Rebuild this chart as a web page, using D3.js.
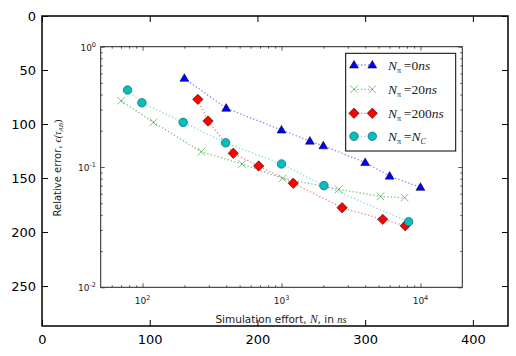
<!DOCTYPE html>
<html><head><meta charset="utf-8">
<script src="https://cdn.jsdelivr.net/npm/d3@7"></script>
<style>body{margin:0;background:#fff}svg{display:block}</style>
</head><body>
<svg id="c" width="516" height="356"></svg>
<script>
// ---- data ----
const outerXTicks = [0, 100, 200, 300, 400];
const outerYTicks = [0, 50, 100, 150, 200, 250];
const innerXTicks = [2, 3, 4];      // exponents 10^k
const innerYTicks = [0, -1, -2];
const n0X = [200, 400, 1000, 1600, 2000, 4000, 6000, 10000];
const n0Y = [0.546, 0.308, 0.203, 0.164, 0.150, 0.109, 0.084, 0.0678];
const n20X = [70, 120, 265, 520, 1020, 2580, 5150, 7700];
const n20Y = [0.356, 0.235, 0.134, 0.106, 0.0805, 0.0653, 0.057, 0.0556];
const n200X = [250, 296, 450, 685, 1215, 2730, 5350, 7770];
const n200Y = [0.365, 0.241, 0.130, 0.102, 0.0732, 0.0459, 0.0367, 0.0325];
const ncX = [78, 99, 196, 396, 1000, 2020, 8220];
const ncY = [0.436, 0.342, 0.235, 0.159, 0.106, 0.070, 0.0351];
const seriesNames = ["0ns", "20ns", "200ns", "NC"];

const svg = d3.select("#c");

// ---- outer axes (image pixel coords) ----
const ox = d3.scaleLinear().domain([0, 432.6]).range([42, 508]);
const oy = d3.scaleLinear().domain([0, 287]).range([16, 326]);

svg.append("rect").attr("x", 42).attr("y", 16).attr("width", 466).attr("height", 310).attr("fill", "#fff");

// ---- inner chart ----
const g = svg.append("g").attr("class", "inner");
const x = d3.scaleLog().domain([50, 20000]).range([100.7, 462.3]);
const y = d3.scaleLog().domain([0.01, 1]).range([287.3, 46.7]);

const minorX = [], minorY = [];
for (let e = 1; e <= 4; e++) for (let m = 2; m <= 9; m++) { const v = m * Math.pow(10, e); if (v > 50 && v < 20000) minorX.push(v); }
for (let e = -2; e <= -1; e++) for (let m = 2; m <= 9; m++) minorY.push(m * Math.pow(10, e));
const majX = innerXTicks.map(k => Math.pow(10, k));
const majY = innerYTicks.map(k => Math.pow(10, k));

function ax(gen, tr, vals, size) {
  const a = g.append("g").attr("transform", tr)
    .call(gen.tickValues(vals).tickSize(size).tickFormat(""));
  a.select(".domain").remove();
  a.selectAll("line").attr("stroke", "#333").attr("stroke-width", 0.8);
}
ax(d3.axisBottom(x), "translate(0,287.3)", majX, -4);
ax(d3.axisBottom(x), "translate(0,287.3)", minorX, -2);
ax(d3.axisTop(x), "translate(0,46.7)", majX, -4);
ax(d3.axisTop(x), "translate(0,46.7)", minorX, -2);
ax(d3.axisLeft(y), "translate(100.7,0)", majY, -4);
ax(d3.axisLeft(y), "translate(100.7,0)", minorY, -2);
ax(d3.axisRight(y), "translate(462.3,0)", majY, -4);
ax(d3.axisRight(y), "translate(462.3,0)", minorY, -2);

g.append("rect").attr("x", 100.7).attr("y", 46.7).attr("width", 361.6).attr("height", 240.6)
  .attr("fill", "none").attr("stroke", "#222").attr("stroke-width", 1);

innerXTicks.forEach(k => {
  const t = g.append("text").attr("x", x(Math.pow(10, k))).attr("y", 304)
    .attr("text-anchor", "middle").attr("font-family", "DejaVu Sans").attr("font-size", 9).attr("fill", "#222");
  t.append("tspan").text("10");
  t.append("tspan").attr("dy", -4).attr("font-size", 6.5).text(k);
});
innerYTicks.forEach(k => {
  const t = g.append("text").attr("x", 96).attr("y", y(Math.pow(10, k)) + 4)
    .attr("text-anchor", "end").attr("font-family", "DejaVu Sans").attr("font-size", 9).attr("fill", "#222");
  t.append("tspan").text("10");
  t.append("tspan").attr("dy", -4).attr("font-size", 6.5).text(k);
});

const yl = g.append("text").attr("transform", "translate(61,168) rotate(-90)")
  .attr("text-anchor", "middle").attr("font-family", "DejaVu Sans").attr("font-size", 10).attr("fill", "#222");
yl.append("tspan").text("Relative error, ");
yl.append("tspan").attr("font-family", "Liberation Serif").attr("font-style", "italic").attr("font-size", 10).text("ϵ(τ");
yl.append("tspan").attr("font-family", "Liberation Serif").attr("font-style", "italic").attr("font-size", 7).attr("dy", 2).text("AB");
yl.append("tspan").attr("font-family", "Liberation Serif").attr("font-size", 10).attr("dy", -2).text(")");

const xl = g.append("text").attr("x", 281).attr("y", 323)
  .attr("text-anchor", "middle").attr("font-family", "DejaVu Sans").attr("font-size", 10.5).attr("fill", "#222");
xl.append("tspan").text("Simulation effort, ");
xl.append("tspan").attr("font-family", "Liberation Serif").attr("font-style", "italic").attr("font-size", 11.5).text("N");
xl.append("tspan").text(", in ");
xl.append("tspan").attr("font-family", "Liberation Serif").attr("font-style", "italic").attr("font-size", 10.5).text("ns");

const series = [
  {xs: n0X, ys: n0Y, color: "#0000ff", marker: "tri"},
  {xs: n20X, ys: n20Y, color: "#008000", marker: "x"},
  {xs: n200X, ys: n200Y, color: "#ff0000", marker: "dia"},
  {xs: ncX, ys: ncY, color: "#00bfbf", marker: "circ"}
];
const line = d3.line().x(d => x(d[0])).y(d => y(d[1]));

function drawMarker(sel, type, color, cx, cy) {
  if (type === "tri") {
    sel.append("path").attr("d", d3.symbol(d3.symbolTriangle, 34)()).attr("transform", `translate(${cx},${cy + 0.5})`)
      .attr("fill", color).attr("stroke", "#000").attr("stroke-width", 0.5);
  } else if (type === "dia") {
    sel.append("path").attr("d", "M0,-5.2L5.2,0L0,5.2L-5.2,0Z").attr("transform", `translate(${cx},${cy})`)
      .attr("fill", color).attr("stroke", "#000").attr("stroke-width", 0.5);
  } else if (type === "circ") {
    sel.append("circle").attr("cx", cx).attr("cy", cy).attr("r", 4.3)
      .attr("fill", color).attr("stroke", "#205050").attr("stroke-width", 0.6);
  } else {
    sel.append("path").attr("d", "M-3.8,-3.8L3.8,3.8M-3.8,3.8L3.8,-3.8").attr("transform", `translate(${cx},${cy})`)
      .attr("stroke", color).attr("stroke-width", 0.9).attr("fill", "none").attr("opacity", 0.55);
  }
}

series.forEach(s => {
  const pts = s.xs.map((v, i) => [v, s.ys[i]]);
  g.append("path").attr("d", line(pts)).attr("fill", "none").attr("stroke", s.color)
    .attr("stroke-width", 1.3).attr("stroke-dasharray", "1.3,2.2").attr("opacity", 0.5);
});
series.forEach(s => {
  s.xs.forEach((v, i) => drawMarker(g, s.marker, s.color, x(v), y(s.ys[i])));
});

const lg = g.append("g");
lg.append("rect").attr("x", 345.7).attr("y", 53.3).attr("width", 110).attr("height", 97.7)
  .attr("fill", "#fff").attr("stroke", "#000").attr("stroke-width", 1);
const legY = [65, 89.3, 113.3, 136.3];
series.forEach((s, i) => {
  const ly = legY[i];
  lg.append("line").attr("x1", 354).attr("x2", 372.3).attr("y1", ly).attr("y2", ly)
    .attr("stroke", s.color).attr("stroke-width", 1.3).attr("stroke-dasharray", "1.3,2.2").attr("opacity", 0.5);
  drawMarker(lg, s.marker, s.color, 354, ly);
  drawMarker(lg, s.marker, s.color, 372.3, ly);
  const t = lg.append("text").attr("x", 388).attr("y", ly + 4.5)
    .attr("font-family", "Liberation Serif").attr("font-size", 13.5).attr("fill", "#222");
  t.append("tspan").attr("font-style", "italic").text("N");
  t.append("tspan").attr("font-size", 8).attr("dy", 3).text("π");
  t.append("tspan").attr("dy", -3).text("\u2009=");
  const nm = seriesNames[i];
  if (nm === "NC") {
    t.append("tspan").attr("font-style", "italic").text("N");
    t.append("tspan").attr("font-style", "italic").attr("font-size", 8).attr("dy", 3).text("C");
  } else {
    const num = nm.replace("ns", "");
    t.append("tspan").text(num);
    t.append("tspan").attr("font-style", "italic").text("ns");
  }
});

const o = svg.append("g");
function oax(gen, tr, labels) {
  const a = o.append("g").attr("transform", tr).call(gen);
  a.select(".domain").remove();
  a.selectAll("line").attr("stroke", "#000").attr("stroke-width", 1);
  a.selectAll("text").attr("font-family", "DejaVu Sans").attr("font-size", 13).attr("fill", "#000");
  if (!labels) a.selectAll("text").remove();
  return a;
}
oax(d3.axisBottom(ox).tickValues(outerXTicks).tickSize(-6).tickPadding(9), "translate(0,326)", true);
oax(d3.axisTop(ox).tickValues(outerXTicks).tickSize(-6), "translate(0,16)", false);
oax(d3.axisLeft(oy).tickValues(outerYTicks).tickSize(-6).tickPadding(6), "translate(42,0)", true);
oax(d3.axisRight(oy).tickValues(outerYTicks).tickSize(-6), "translate(508,0)", false);
o.append("rect").attr("x", 42).attr("y", 16).attr("width", 466).attr("height", 310)
  .attr("fill", "none").attr("stroke", "#000").attr("stroke-width", 1.5);
</script>
</body></html>
